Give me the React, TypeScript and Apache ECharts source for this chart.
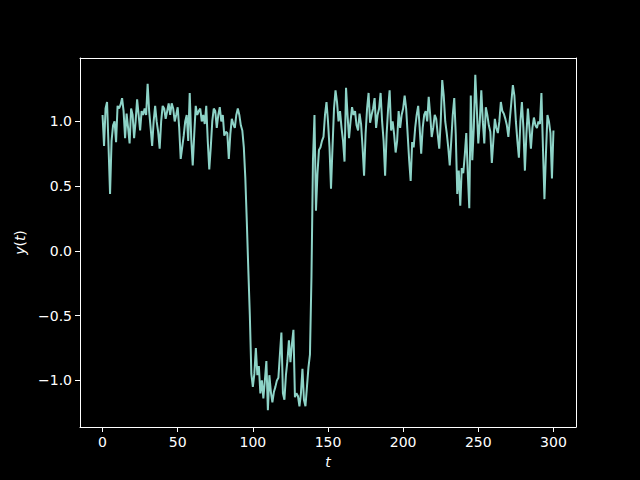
import React, { useEffect, useRef } from "react";
import * as echarts from "echarts";

const yValues: number[] = [
  1.05, 0.81, 1.1, 1.15, 0.8, 0.44, 0.85, 0.97, 1.0, 0.84,
  1.12, 1.1, 1.13, 1.18, 1.08, 0.87, 1.06, 0.95, 0.83, 1.1,
  1.05, 0.87, 1.0, 1.17, 1.05, 0.93, 1.08, 1.05, 1.1, 1.05,
  1.29, 1.08, 0.95, 0.81, 1.0, 1.12, 1.0, 0.92, 0.79, 1.0,
  1.12, 1.1, 1.02, 1.08, 1.14, 1.05, 1.14, 1.1, 1.0, 1.05,
  1.11, 0.95, 0.71, 0.8, 0.89, 1.0, 1.05, 0.85, 1.22, 0.87,
  0.66, 0.9, 1.12, 1.05, 1.08, 1.1, 1.0, 1.05, 0.98, 1.12,
  0.85, 0.63, 0.8, 1.0, 1.1, 1.08, 0.95, 1.05, 1.11, 1.0,
  1.05, 0.89, 0.92, 0.91, 0.71, 0.9, 1.02, 0.98, 0.95, 1.05,
  1.1, 1.05, 0.97, 0.93, 0.8, 0.56, 0.22, -0.15, -0.5, -0.95,
  -1.05, -0.95, -0.75, -0.96, -0.89, -1.1, -1.0, -1.14, -1.0, -0.85,
  -1.23, -0.96, -1.09, -1.17, -1.09, -1.05, -1.0, -0.98, -0.8, -0.63,
  -1.1, -1.15, -0.96, -0.85, -0.69, -0.86, -0.72, -0.61, -1.13, -1.1,
  -1.12, -1.2, -1.1, -0.91, -1.15, -1.2, -1.05, -0.9, -0.8, -0.2,
  0.7, 1.05, 0.31, 0.6, 0.78, 0.8, 0.85, 0.88, 1.05, 1.15,
  1.0, 0.8, 0.48, 0.8, 1.1, 1.24, 1.15, 1.0, 1.08, 0.95,
  0.85, 0.69, 1.26, 1.05, 0.87, 1.0, 1.11, 1.05, 1.08, 0.97,
  0.93, 1.06, 0.98, 0.8, 0.58, 0.9, 1.1, 1.22, 0.99, 1.05,
  1.1, 1.18, 0.95, 1.05, 1.1, 1.22, 1.0, 0.85, 0.58, 0.9,
  1.1, 1.24, 0.93, 1.0, 0.9, 0.76, 0.85, 1.08, 0.95, 1.05,
  1.1, 1.2, 1.1, 0.9, 0.7, 0.54, 0.84, 0.8, 0.95, 1.05,
  1.12, 0.95, 0.75, 0.95, 1.05, 1.08, 1.0, 1.19, 1.05, 0.88,
  0.95, 1.05, 1.02, 0.9, 0.79, 1.0, 1.32, 1.2, 1.0, 0.91,
  0.8, 0.66, 0.85, 1.05, 1.18, 0.9, 0.44, 0.62, 0.35, 0.64,
  0.6, 0.74, 0.91, 0.6, 0.33, 1.2, 0.7, 0.95, 1.36, 1.1,
  0.83, 1.0, 1.24, 1.0, 0.83, 1.11, 1.05, 0.97, 0.92, 0.68,
  0.85, 1.02, 0.95, 0.91, 1.0, 1.15, 1.08, 1.06, 1.02, 0.97,
  0.88, 1.02, 1.15, 1.28, 1.2, 1.0, 0.85, 0.72, 1.0, 1.15,
  0.95, 0.62, 0.9, 1.1, 0.95, 0.79, 0.95, 1.03, 0.97, 0.95,
  1.0, 0.98, 1.22, 0.8, 0.4, 0.75, 1.05, 1.0, 0.91, 0.56,
  0.93,
];

const xTicks: number[] = [0, 50, 100, 150, 200, 250, 300];
const yTicks: number[] = [-1.0, -0.5, 0.0, 0.5, 1.0];

const FONT = "DejaVu Sans";
const FG = "#ffffff";
const X_MIN = -15;
const X_MAX = 315;
const Y_MIN = -1.36;
const Y_MAX = 1.49;

export default function App() {
  const ref = useRef<HTMLDivElement>(null);

  useEffect(() => {
    if (!ref.current) return;
    const chart = echarts.init(ref.current, undefined, { renderer: "svg" });
    const data = yValues.map((v, i) => [i, v]);
    const spine = { show: true, onZero: false, lineStyle: { color: FG, width: 1 } };
    chart.setOption({
      animation: false,
      backgroundColor: "#000000",
      textStyle: { fontFamily: FONT, color: FG },
      grid: { left: 80, top: 58, right: 64, bottom: 53, show: false },
      xAxis: [
        {
          type: "value",
          min: X_MIN,
          max: X_MAX,
          name: "t",
          nameLocation: "middle",
          nameGap: 28,
          nameTextStyle: { fontFamily: FONT, fontSize: 14, fontStyle: "italic", color: FG },
          axisLine: spine,
          axisTick: {
            show: true,
            length: 5,
            lineStyle: { color: FG, width: 1 },
            customValues: xTicks,
          },
          axisLabel: {
            fontFamily: FONT,
            fontSize: 14,
            color: FG,
            margin: 8,
            customValues: xTicks,
            formatter: (v: number) => String(Math.round(v)),
          },
          splitLine: { show: false },
        },
        {
          type: "value",
          position: "top",
          min: X_MIN,
          max: X_MAX,
          axisLine: spine,
          axisTick: { show: false },
          axisLabel: { show: false },
          splitLine: { show: false },
        },
      ],
      yAxis: [
        {
          type: "value",
          min: Y_MIN,
          max: Y_MAX,
          name: "{i|y}{n|(}{i|t}{n|)}",
          nameLocation: "middle",
          nameGap: 50,
          nameRotate: 90,
          nameTextStyle: {
            fontFamily: FONT,
            fontSize: 14,
            color: FG,
            rich: {
              i: { fontFamily: FONT, fontSize: 14, fontStyle: "italic", color: FG },
              n: { fontFamily: FONT, fontSize: 14, color: FG },
            },
          },
          axisLine: spine,
          axisTick: {
            show: true,
            length: 5,
            lineStyle: { color: FG, width: 1 },
            customValues: yTicks,
          },
          axisLabel: {
            fontFamily: FONT,
            fontSize: 14,
            color: FG,
            margin: 8,
            customValues: yTicks,
            formatter: (v: number) => v.toFixed(1).replace("-", "\u2212"),
          },
          splitLine: { show: false },
        },
        {
          type: "value",
          position: "right",
          min: Y_MIN,
          max: Y_MAX,
          axisLine: spine,
          axisTick: { show: false },
          axisLabel: { show: false },
          splitLine: { show: false },
        },
      ],
      series: [
        {
          type: "line",
          xAxisIndex: 0,
          yAxisIndex: 0,
          data,
          showSymbol: false,
          symbol: "none",
          lineStyle: { color: "#8dd3c7", width: 2 },
          itemStyle: { color: "#8dd3c7" },
        },
      ],
    });
    return () => chart.dispose();
  }, []);

  return (
    <div
      ref={ref}
      style={{ position: "fixed", left: 0, top: 0, width: 640, height: 480 }}
    />
  );
}
